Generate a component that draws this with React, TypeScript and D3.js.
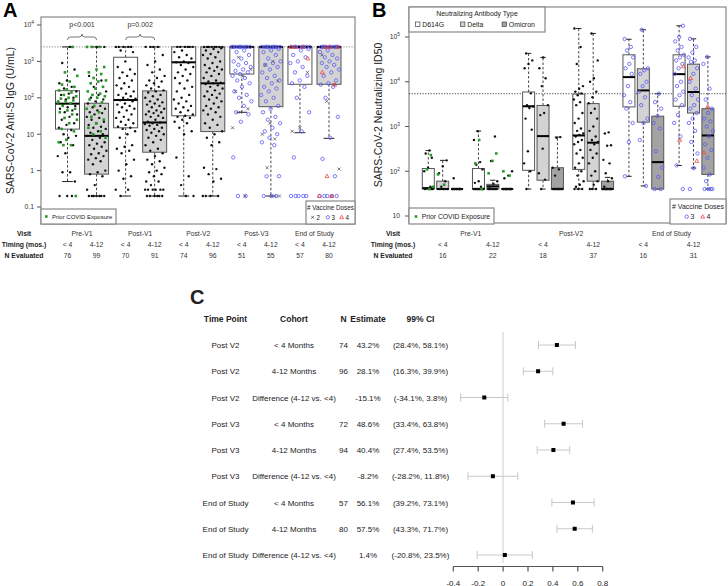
import * as d3 from 'd3';

const FONT = '"Liberation Sans", Arial, Helvetica, sans-serif';
const rep = (v: number, n: number): number[] => Array(n).fill(v);

// ---------- Panel A: anti-S IgG ----------
const visitsA = ['Pre-V1', 'Post-V1', 'Post-V2', 'Post-V3', 'End of Study'];
const timingLabels = ['< 4', '4-12'];
const nEvaluatedA = [76, 99, 70, 91, 74, 96, 51, 55, 57, 80];
const ticksA = [1e4, 1e3, 1e2, 10, 1, 0.1];
const uloqA = 2500;
const pValuesA = ['p<0.001', 'p=0.002'];
// [whisker low, q1, median, q3, whisker high]
const boxStatsA = [
  [0.5, 13.8, 69, 157, 2500],
  [0.2, 0.8, 9, 71, 2500],
  [0.2, 15, 87, 1300, 2500],
  [0.2, 3.2, 21, 155, 2500],
  [0.2, 32, 945, 2500, 2500],
  [0.2, 11.8, 250, 2500, 2500],
  [40, 450, 2500, 2500, 2500],
  [0.2, 57, 2500, 2500, 2500],
  [11, 235, 2500, 2500, 2500],
  [7.7, 235, 2500, 2500, 2500],
];
const blackPtsA: number[][] = [
  [2500, 900, 600, 300, 250, 200, 180, 150, 130, 120, 100, 90, 80, 70, 65, 60, 55, 50, 45, 40, 35, 30, 25, 20, 18, 15, 13, 10, 9, 8, 6, 5, 3, 2.5, 0.9, 0.9, 0.5, 0.2, 0.2, 0.2],
  [2500, 2500, 400, 300, 200, 150, 120, 100, 90, 80, 70, 60, 55, 50, 45, 40, 38, 35, 30, 28, 25, 22, 20, 18, 16, 15, 14, 12, 11, 10, 9, 9, 8, 7, 6, 5.5, 5, 4.5, 4, 3.5, 3, 2.8, 2.5, 2.2, 2, 1.8, 1.5, 1, 0.9, 0.8, 0.7, 0.4, 0.3, ...rep(0.2, 7)],
  [...rep(2500, 5), 2000, 1800, 1000, 700, 600, 500, 450, 400, 350, 300, 250, 220, 200, 180, 150, 130, 120, 110, 100, 95, 90, 85, 80, 70, 65, 60, 55, 50, 45, 40, 35, 30, 28, 25, 22, 20, 18, 16, 15, 14, 12, 10, 8, 5, 4.5, 4, 3.5, 3, 2, 1.5, 1, 0.7, 0.6, 0.3, 0.3, 0.2],
  [...rep(2500, 4), 1500, 1000, 800, 600, 500, 400, 350, 300, 280, 250, 220, 200, 180, 160, 150, 140, 120, 110, 100, 90, 80, 75, 70, 65, 60, 55, 50, 45, 42, 40, 38, 35, 32, 30, 28, 25, 22, 21, 20, 19, 18, 17, 15, 14, 13, 12, 11, 10, 9, 8, 7, 6, 5, 4, 3.5, 3, 2.5, 2, 1.8, 1.5, 1.2, 1, 0.9, 0.8, 0.7, 0.5, 0.5, 0.4, ...rep(0.3, 6), ...rep(0.2, 6)],
  [...rep(2500, 6), 2000, 1800, 1500, 1300, 1200, 1000, 950, 900, 800, 700, 600, 500, 450, 400, 350, 300, 250, 200, 180, 150, 120, 100, 90, 80, 70, 60, 55, 50, 45, 40, 35, 32, 30, 28, 25, 22, 20, 15, 12, 10, 2.3, 0.7, 0.4, 0.2, 0.2],
  [...rep(2500, 8), 2300, 2200, 2000, 1800, 1600, 1500, 1300, 1200, 1000, 900, 800, 700, 650, 600, 550, 500, 450, 400, 350, 300, 280, 260, 250, 240, 220, 200, 180, 160, 150, 130, 120, 110, 100, 90, 80, 70, 60, 55, 50, 45, 40, 35, 30, 25, 20, 18, 15, 12, 10, 8, 6, 5, 1.2, 1.1, 0.8, 0.6, 0.5, ...rep(0.2, 4)],
  [], [], [], [],
];
const greenPtsA: number[][] = [
  [2500, 500, 400, 280, 230, 200, 170, 160, 140, 120, 110, 100, 95, 85, 80, 75, 70, 60, 50, 45, 40, 35, 28, 25, 20, 14, 12, 7, 6, 5, 5, 0.2],
  [2500, 2500, 2500, 700, 600, 500, 450, 350, 300, 280, 250, 200, 180, 150, 130, 120, 110, 100, 90, 75, 60, 50, 40, 30, 25, 20, 15, 12, 10, 8],
  [], [], [], [], [], [], [], [],
];
const dose2PtsA: number[][] = [
  [], [], [], [], [], [],
  [1300, 600, 400, 150, 50, 40, 15, 0.2],
  [1000, 800, 290, 20, 10, 7.4, 1.2, 0.2, 0.2],
  [500, 15, 12],
  [1500, 230, 80, 1.1, 0.2],
];
const dose3PtsA: number[][] = [
  [], [], [], [], [], [],
  [...rep(2500, 10), 2000, 1800, 1500, 1200, 1000, 900, 800, 700, 600, 550, 500, 450, 400, 350, 300, 250, 200, 150, 120, 100, 80, 60, 40, 35, 22, 2.3, 0.2, 0.2],
  [...rep(2500, 10), 2200, 2000, 1800, 1500, 1200, 1000, 900, 800, 700, 600, 500, 400, 350, 300, 250, 200, 180, 150, 120, 100, 80, 60, 50, 40, 30, 25, 20, 15, 12, 10, 8, 6, 5, 0.7, 0.7, 0.2, 0.2, 0.2],
  [...rep(2500, 8), 2200, 2000, 1500, 1300, 1000, 900, 700, 500, 400, 300, 250, 200, 100, 40, 12, 2.3, ...rep(0.2, 5)],
  [...rep(2500, 10), 2000, 1800, 1500, 1300, 1200, 1000, 900, 800, 700, 600, 500, 400, 300, 250, 230, 200, 100, 30, 8, 2.1, 0.7, ...rep(0.2, 5)],
];
const dose4PtsA: number[][] = [
  [], [], [], [], [], [], [], [],
  [2500, 2500, 2500, 1200],
  [2500, 2500, 2500, 500, 230, 0.7, 0.2, 0.2],
];

// ---------- Panel B: neutralizing ID50 ----------
const visitsB = ['Pre-V1', 'Post-V2', 'End of Study'];
const variantsB = ['D614G', 'Delta', 'Omicron'];
const nEvaluatedB = [16, 22, 18, 37, 16, 31];
const ticksB = [1e5, 1e4, 1e3, 1e2, 10];
const refLineB = 5400;
// slots: visit/timing group x variant
const boxStatsB = [
  [40, 40, 42, 115, 290],
  [40, 40, 40, 60, 175],
  [40, 40, 40, 40, 40],
  [40, 40, 40, 115, 790],
  [40, 40, 46, 51, 63],
  [40, 40, 40, 40, 40],
  [40, 105, 2830, 5900, 43000],
  [40, 63, 610, 2950, 35000],
  [40, 40, 40, 120, 580],
  [40, 110, 630, 5300, 155000],
  [40, 60, 435, 3250, 120000],
  [40, 40, 40, 60, 73],
  [77, 2740, 12700, 40000, 89000],
  [47, 1250, 6400, 19500, 145000],
  [40, 40, 160, 1700, 5400],
  [135, 2830, 14800, 40000, 178000],
  [118, 2000, 5900, 24700, 91000],
  [40, 85, 630, 2500, 36000],
];
const blackPtsB: number[][] = [
  [290, 250, 200, 120, 100, 45, 42, 40, 40, 40, 40],
  [175, 130, 90, 60, 45, 40, 40, 40],
  [70, ...rep(40, 9)],
  [790, 500, 160, 140, 110, 60, 55, 45, ...rep(40, 7)],
  [600, 170, 60, 52, 45, ...rep(40, 8)],
  [100, 80, 70, ...rep(40, 10)],
  [43000, 30000, 25000, 20000, 5500, 3000, 2800, 2600, 1500, 850, 280, 150, 100, 40],
  [35000, 20000, 12000, 8000, 3000, 2000, 1800, 610, 320, 90, 65, 40],
  [580, 560, 120, 110, 80, ...rep(40, 8)],
  [155000, 60000, 25000, 8000, 7000, 6000, 5500, 5000, 4000, 3500, 3000, 2000, 1500, 1200, 900, 800, 700, 650, 600, 500, 450, 400, 300, 250, 200, 150, 120, 100, 80, 60, 50, 45, 40, 40, 40],
  [120000, 30000, 12000, 10000, 6000, 4500, 3300, 2500, 2000, 1500, 1000, 800, 600, 500, 450, 400, 300, 250, 200, 150, 100, 80, 60, 50, 40, 40, 40],
  [740, 700, 380, 370, 180, 150, 90, 70, 60, 45, ...rep(40, 10)],
  [], [], [], [], [], [],
];
const greenPtsB: number[][] = [
  [230, 110, 45, 40], [85, 50], [], [500, 150, 40], [250, 170, 90], [100, 80],
  [], [], [], [], [], [], [], [], [], [], [], [],
];
const dose3PtsB: number[][] = [
  [], [], [], [], [], [], [], [], [], [], [], [],
  [90000, 60000, 50000, 35000, 25000, 20000, 15000, 8000, 5000, 3500, 2500, 1200, 450, 77],
  [145000, 20000, 18000, 15000, 10000, 8000, 6000, 4500, 3000, 1500, 1200, 500, 47],
  [5400, 3500, 2500, 1700, 1200, 900, 280, 120, 75, 40, 40],
  [178000, 100000, 80000, 60000, 50000, 40000, 35000, 30000, 25000, 20000, 15000, 10000, 8000, 6000, 5000, 4000, 3000, 1800, 1200, 600, 135, 40],
  [91000, 60000, 45000, 35000, 30000, 28000, 20000, 15000, 10000, 7000, 5000, 4000, 3000, 2500, 2000, 1500, 1200, 800, 450, 250, 118, 40],
  [36000, 25000, 7000, 4000, 2500, 2000, 1500, 1300, 1000, 800, 600, 400, 300, 200, 120, 85, 60, 40, 40, 40, 40],
];
const dose4PtsB: number[][] = [
  [], [], [], [], [], [], [], [], [], [], [], [], [], [], [],
  [22000, 500], [12000, 170], [2800, 260],
];

// ---------- Panel C: forest table ----------
const timePointsC = ['Post V2', 'Post V2', 'Post V2', 'Post V3', 'Post V3', 'Post V3', 'End of Study', 'End of Study', 'End of Study'];
const cohortsC = ['< 4 Months', '4-12 Months', 'Difference (4-12 vs. <4)', '< 4 Months', '4-12 Months', 'Difference (4-12 vs. <4)', '< 4 Months', '4-12 Months', 'Difference (4-12 vs. <4)'];
const nC = [74, 96, null, 72, 94, null, 57, 80, null];
const estimatesC = [43.2, 28.1, -15.1, 48.6, 40.4, -8.2, 56.1, 57.5, 1.4];
const ciLowC = [28.4, 16.3, -34.1, 33.4, 27.4, -28.2, 39.2, 43.3, -20.8];
const ciHighC = [58.1, 39.9, 3.8, 63.8, 53.5, 11.8, 73.1, 71.7, 23.5];
const ticksC = [-0.4, -0.2, 0, 0.2, 0.4, 0.6, 0.8];

const jit = (i: number, seed: number) => (((i + 1) * 0.6180339887 + seed * 0.2718) % 1) - 0.5;

type Kind = 'dot' | 'green' | 'c3' | 't4' | 'x2';
function Marker({ kind, x, y }: { kind: Kind; x: number; y: number }) {
  if (kind === 'dot') return <circle cx={x} cy={y} r={1.2} fill="#111" />;
  if (kind === 'green') return <rect x={x - 1.3} y={y - 1.3} width={2.6} height={2.6} fill="#2a982a" />;
  if (kind === 'c3') return <circle cx={x} cy={y} r={1.7} fill="none" stroke="#5a5af2" strokeWidth={0.8} />;
  if (kind === 't4')
    return <path d={`M${x},${y - 2.1}L${x + 2},${y + 1.4}L${x - 2},${y + 1.4}Z`} fill="none" stroke="#f04848" strokeWidth={0.8} />;
  return (
    <path d={`M${x - 1.5},${y - 1.5}L${x + 1.5},${y + 1.5}M${x - 1.5},${y + 1.5}L${x + 1.5},${y - 1.5}`} stroke="#555" strokeWidth={0.8} />
  );
}

function Box({ x, w, stats, y, fill }: { x: number; w: number; stats: number[]; y: (v: number) => number; fill: string }) {
  const [lo, q1, med, q3, hi] = stats;
  const cw = w * 0.45;
  return (
    <g>
      <line x1={x} x2={x} y1={y(q3)} y2={y(hi)} stroke="#444" strokeDasharray="2.5,2" />
      <line x1={x} x2={x} y1={y(q1)} y2={y(lo)} stroke="#444" strokeDasharray="2.5,2" />
      <line x1={x - cw / 2} x2={x + cw / 2} y1={y(hi)} y2={y(hi)} stroke="#222" />
      <line x1={x - cw / 2} x2={x + cw / 2} y1={y(lo)} y2={y(lo)} stroke="#222" />
      <rect x={x - w / 2} y={y(q3)} width={w} height={Math.max(0, y(q1) - y(q3))} fill={fill} stroke="#555" />
      <line x1={x - w / 2} x2={x + w / 2} y1={y(med)} y2={y(med)} stroke="#000" strokeWidth={2} />
    </g>
  );
}

function PowerLabel({ v, x, y, size }: { v: number; x: number; y: number; size: number }) {
  const e = Math.round(Math.log10(v));
  if (e >= 2)
    return (
      <text x={x} y={y} textAnchor="end" fontSize={size} fill="#333">
        10<tspan dy={-3} fontSize={size * 0.7}>{e}</tspan>
      </text>
    );
  return (
    <text x={x} y={y} textAnchor="end" fontSize={size} fill="#333">
      {String(v)}
    </text>
  );
}

function PanelA() {
  const frame = { left: 41, right: 355, top: 17, bottom: 224 };
  const y = d3.scaleLog().domain([0.1, 1e4]).range([207, 25]);
  const x = d3.scalePoint<number>().domain(d3.range(10)).range([67.5, 329]);
  const bw = 24;
  const rows = [235.5, 246.5, 257.5];
  const pts: { k: Kind; v: number[]; seed: number }[][] = d3.range(10).map((g) => [
    { k: 'dot', v: blackPtsA[g], seed: g },
    { k: 'green', v: greenPtsA[g], seed: g + 0.5 },
    { k: 'x2', v: dose2PtsA[g], seed: g + 0.3 },
    { k: 'c3', v: dose3PtsA[g], seed: g + 0.7 },
    { k: 't4', v: dose4PtsA[g], seed: g + 0.9 },
  ]);
  return (
    <g>
      <text x={3} y={17} fontSize={20} fontWeight="bold">A</text>
      <rect x={frame.left} y={frame.top} width={frame.right - frame.left} height={frame.bottom - frame.top} fill="none" stroke="#888" strokeWidth={1.2} />
      {ticksA.map((t) => (
        <g key={t}>
          <line x1={37} x2={frame.left} y1={y(t)} y2={y(t)} stroke="#555" />
          <PowerLabel v={t} x={34} y={y(t) + 2.3} size={6.8} />
        </g>
      ))}
      <text transform={`translate(14,${(frame.top + frame.bottom) / 2}) rotate(-90)`} textAnchor="middle" fontSize={10.5} fill="#222">
        SARS-CoV-2 Anti-S IgG (U/mL)
      </text>
      <line x1={frame.left} x2={frame.right} y1={y(uloqA)} y2={y(uloqA)} stroke="#888" strokeDasharray="1.2,1.5" />
      {boxStatsA.map((s, i) => (
        <Box key={i} x={x(i)!} w={bw} stats={s} y={y} fill={i % 2 ? '#d3d3d3' : '#fff'} />
      ))}
      {pts.map((layers, g) =>
        layers.map((layer) =>
          layer.v.map((v, i) => <Marker key={`${g}-${layer.k}-${i}`} kind={layer.k} x={x(g)! + jit(i, layer.seed) * 20} y={y(v)} />)
        )
      )}
      {pValuesA.map((p, i) => {
        const x1 = x(i * 2)!;
        const x2 = x(i * 2 + 1)!;
        const m = (x1 + x2) / 2;
        const by = 37;
        return (
          <g key={p}>
            <text x={m} y={27} textAnchor="middle" fontSize={7} fill="#333">{p}</text>
            <path
              d={`M${x1},${by + 3}Q${x1},${by} ${x1 + 3},${by}L${m - 3},${by}Q${m},${by} ${m},${by - 3}Q${m},${by} ${m + 3},${by}L${x2 - 3},${by}Q${x2},${by} ${x2},${by + 3}`}
              fill="none"
              stroke="#555"
              strokeWidth={0.8}
            />
          </g>
        );
      })}
      {/* legends */}
      <rect x={41} y={209} width={75} height={15} fill="#fff" stroke="#888" strokeWidth={1.2} />
      <Marker kind="green" x={46.3} y={216.5} />
      <text x={52} y={219} fontSize={6} fill="#222">Prior COVID Exposure</text>
      <rect x={306} y={201} width={49} height={23} fill="#fff" stroke="#888" strokeWidth={1.2} />
      <text x={330.5} y={210} textAnchor="middle" fontSize={6.3} fill="#222"># Vaccine Doses</text>
      <Marker kind="x2" x={312.7} y={217.3} />
      <text x={316.5} y={219.6} fontSize={6.3} fill="#222">2</text>
      <Marker kind="c3" x={327.8} y={217.3} />
      <text x={331.5} y={219.6} fontSize={6.3} fill="#222">3</text>
      <Marker kind="t4" x={341.7} y={217.3} />
      <text x={345.5} y={219.6} fontSize={6.3} fill="#222">4</text>
      {/* table */}
      {['Visit', 'Timing (mos.)', 'N Evaluated'].map((t, r) => (
        <text key={t} x={24} y={rows[r]} textAnchor="middle" fontSize={6.8} fontWeight="bold" fill="#222">{t}</text>
      ))}
      {visitsA.map((v, i) => (
        <text key={v} x={(x(i * 2)! + x(i * 2 + 1)!) / 2} y={rows[0]} textAnchor="middle" fontSize={6.8} fill="#333">{v}</text>
      ))}
      {nEvaluatedA.map((n, i) => (
        <g key={i}>
          <text x={x(i)} y={rows[1]} textAnchor="middle" fontSize={6.8} fill="#333">{timingLabels[i % 2]}</text>
          <text x={x(i)} y={rows[2]} textAnchor="middle" fontSize={6.8} fill="#333">{n}</text>
        </g>
      ))}
    </g>
  );
}

function PanelB() {
  const frame = { left: 409, right: 726, top: 7, bottom: 223 };
  const y = d3.scaleLog().domain([10, 1e5]).range([216, 37]);
  const xg = d3.scalePoint<number>().domain(d3.range(6)).range([442.7, 693.5]);
  const step = 14.4;
  const bw = 12;
  const fills = ['#fff', '#d3d3d3', '#a3a3a3'];
  const rows = [235.5, 246.5, 257.5];
  const sx = (slot: number) => xg(Math.floor(slot / 3))! + ((slot % 3) - 1) * step;
  return (
    <g>
      <text x={372} y={17} fontSize={20} fontWeight="bold">B</text>
      <rect x={frame.left} y={frame.top} width={frame.right - frame.left} height={frame.bottom - frame.top} fill="none" stroke="#888" strokeWidth={1.2} />
      {ticksB.map((t) => (
        <g key={t}>
          <line x1={405} x2={frame.left} y1={y(t)} y2={y(t)} stroke="#555" />
          <PowerLabel v={t} x={400} y={y(t) + 2.3} size={6.8} />
        </g>
      ))}
      <text transform={`translate(382,${(frame.top + frame.bottom) / 2}) rotate(-90)`} textAnchor="middle" fontSize={10.5} fill="#222">
        SARS-CoV-2 Neutralizing ID50
      </text>
      <line x1={frame.left} x2={frame.right} y1={y(refLineB)} y2={y(refLineB)} stroke="#444" strokeDasharray="1.2,1.5" />
      {boxStatsB.map((s, i) => (
        <Box key={i} x={sx(i)} w={bw} stats={s} y={y} fill={fills[i % 3]} />
      ))}
      {boxStatsB.map((_, slot) => (
        <g key={slot}>
          {blackPtsB[slot].map((v, i) => <Marker key={`b${i}`} kind="dot" x={sx(slot) + jit(i, slot) * 10} y={y(v)} />)}
          {greenPtsB[slot].map((v, i) => <Marker key={`g${i}`} kind="green" x={sx(slot) + jit(i, slot + 0.5) * 10} y={y(v)} />)}
          {dose3PtsB[slot].map((v, i) => <Marker key={`c${i}`} kind="c3" x={sx(slot) + jit(i, slot + 0.7) * 10} y={y(v)} />)}
          {dose4PtsB[slot].map((v, i) => <Marker key={`t${i}`} kind="t4" x={sx(slot) + jit(i, slot + 0.9) * 10} y={y(v)} />)}
        </g>
      ))}
      {/* antibody type legend */}
      <rect x={409} y={7} width={136} height={25} fill="#fff" stroke="#888" strokeWidth={1.2} />
      <text x={477} y={16} textAnchor="middle" fontSize={6.9} fill="#222">Neutralizing Antibody Type</text>
      {variantsB.map((v, i) => {
        const lx = [417.7, 462.7, 504.3][i];
        return (
          <g key={v}>
            <rect x={lx - 2.2} y={22} width={4.4} height={4.4} fill={fills[i]} stroke="#444" strokeWidth={0.7} />
            <text x={lx + 4.5} y={26.6} fontSize={6.9} fill="#222">{v}</text>
          </g>
        );
      })}
      <rect x={409} y={208} width={85} height={16} fill="#fff" stroke="#888" strokeWidth={1.2} />
      <Marker kind="green" x={416} y={216.5} />
      <text x={421.7} y={219} fontSize={6.8} fill="#222">Prior COVID Exposure</text>
      <rect x={670} y={199} width={56} height={25} fill="#fff" stroke="#888" strokeWidth={1.2} />
      <text x={698} y={209} textAnchor="middle" fontSize={7} fill="#222"># Vaccine Doses</text>
      <Marker kind="c3" x={686.7} y={216.7} />
      <text x={690.5} y={219.3} fontSize={7} fill="#222">3</text>
      <Marker kind="t4" x={702.7} y={216.7} />
      <text x={706.5} y={219.3} fontSize={7} fill="#222">4</text>
      {/* table */}
      {['Visit', 'Timing (mos.)', 'N Evaluated'].map((t, r) => (
        <text key={t} x={393} y={rows[r]} textAnchor="middle" fontSize={6.8} fontWeight="bold" fill="#222">{t}</text>
      ))}
      {visitsB.map((v, i) => (
        <text key={v} x={(xg(i * 2)! + xg(i * 2 + 1)!) / 2 + 3} y={rows[0]} textAnchor="middle" fontSize={6.8} fill="#333">{v}</text>
      ))}
      {nEvaluatedB.map((n, i) => (
        <g key={i}>
          <text x={xg(i)} y={rows[1]} textAnchor="middle" fontSize={6.8} fill="#333">{timingLabels[i % 2]}</text>
          <text x={xg(i)} y={rows[2]} textAnchor="middle" fontSize={6.8} fill="#333">{n}</text>
        </g>
      ))}
    </g>
  );
}

function PanelC() {
  const x = d3.scaleLinear().domain([-0.4, 0.8]).range([453.3, 602.7]);
  const row = d3.scaleLinear().domain([0, 8]).range([345, 555]);
  const cols = { time: 225.5, cohort: 294, n: 343.5, est: 368, ci: 420.5 };
  const axisY = 566.5;
  const fmt = (v: number) => `${v.toFixed(1)}%`;
  return (
    <g fill="#222">
      <text x={190} y={304} fontSize={20} fontWeight="bold">C</text>
      {[
        ['Time Point', cols.time],
        ['Cohort', cols.cohort],
        ['N', cols.n],
        ['Estimate', cols.est],
        ['99% CI', cols.ci],
      ].map(([t, cx]) => (
        <text key={t as string} x={cx as number} y={322} textAnchor="middle" fontSize={8.5} fontWeight="bold">{t}</text>
      ))}
      <line x1={x(0)} x2={x(0)} y1={332} y2={563} stroke="#e0e0e0" strokeWidth={1.6} />
      {estimatesC.map((e, i) => {
        const yy = row(i);
        const lo = x(ciLowC[i] / 100);
        const hi = x(ciHighC[i] / 100);
        return (
          <g key={i}>
            <text x={cols.time} y={yy + 3} textAnchor="middle" fontSize={8}>{timePointsC[i]}</text>
            <text x={cols.cohort} y={yy + 3} textAnchor="middle" fontSize={8}>{cohortsC[i]}</text>
            {nC[i] != null && <text x={cols.n} y={yy + 3} textAnchor="middle" fontSize={8}>{nC[i]}</text>}
            <text x={cols.est} y={yy + 3} textAnchor="middle" fontSize={8}>{fmt(e)}</text>
            <text x={cols.ci} y={yy + 3} textAnchor="middle" fontSize={8}>{`(${fmt(ciLowC[i])}, ${fmt(ciHighC[i])})`}</text>
            <line x1={lo} x2={hi} y1={yy} y2={yy} stroke="#c8c8c8" />
            <line x1={lo} x2={lo} y1={yy - 4} y2={yy + 4} stroke="#c8c8c8" />
            <line x1={hi} x2={hi} y1={yy - 4} y2={yy + 4} stroke="#c8c8c8" />
            <rect x={x(e / 100) - 2} y={yy - 2} width={4} height={4} fill="#000" />
          </g>
        );
      })}
      <line x1={x(-0.4)} x2={x(0.8)} y1={axisY} y2={axisY} stroke="#555" strokeWidth={1.2} />
      {ticksC.map((t) => (
        <g key={t}>
          <line x1={x(t)} x2={x(t)} y1={axisY} y2={axisY + 5} stroke="#555" strokeWidth={1.2} />
          <text x={x(t)} y={585.5} textAnchor="middle" fontSize={8}>{String(t)}</text>
        </g>
      ))}
    </g>
  );
}

export default function App() {
  return (
    <div style={{ position: 'absolute', left: 0, top: 0 }}>
      <svg width={728} height={586} style={{ display: 'block', background: '#fff', fontFamily: FONT }}>
        <PanelA />
        <PanelB />
        <PanelC />
      </svg>
    </div>
  );
}
